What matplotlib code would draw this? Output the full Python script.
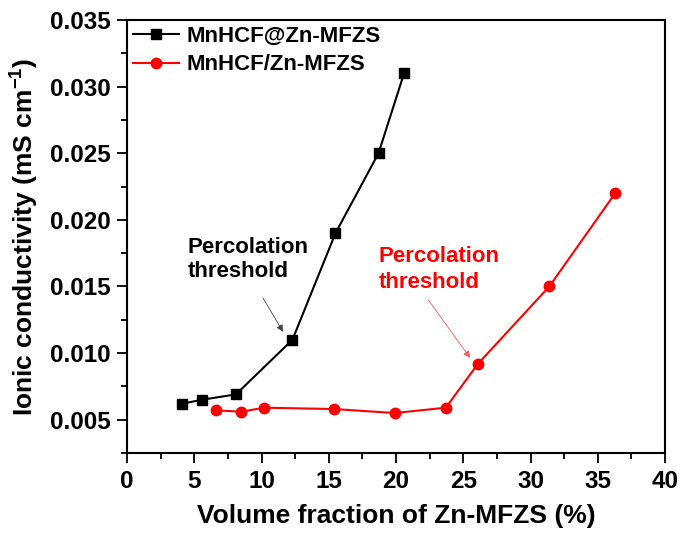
import numpy as np
import matplotlib.pyplot as plt
from matplotlib.ticker import MultipleLocator

plt.rcParams['font.family'] = ['Liberation Sans', 'DejaVu Sans']
plt.rcParams['font.weight'] = 'bold'
plt.rcParams['mathtext.fontset'] = 'custom'
plt.rcParams['mathtext.bf'] = 'Liberation Sans:bold'
plt.rcParams['mathtext.rm'] = 'Liberation Sans:bold'
plt.rcParams['mathtext.default'] = 'bf'

# MnHCF@Zn-MFZS
x_at = [4.1, 5.6, 8.1, 12.3, 15.5, 18.7, 20.6]
y_at = [0.0062, 0.0065, 0.0069, 0.011, 0.019, 0.025, 0.031]

# MnHCF/Zn-MFZS
x_sl = [6.6, 8.5, 10.2, 15.4, 19.9, 23.7, 26.1, 31.4, 36.3]
y_sl = [0.0057, 0.0056, 0.0059, 0.0058, 0.0055, 0.0059, 0.0092, 0.015, 0.022]

yticks = [0.005, 0.010, 0.015, 0.020, 0.025, 0.030, 0.035]

fig = plt.figure(figsize=(6.81, 5.33), dpi=100)
ax = fig.add_axes([127/681, 1 - 453/533, (665-127)/681, (453-20)/533])

ax.plot(x_at, y_at, '-s', color='black', lw=1.5, ms=6.5, label='MnHCF@Zn-MFZS')
ax.plot(x_sl, y_sl, '-o', color='red', lw=1.5, ms=7.5, label='MnHCF/Zn-MFZS')

ax.set_xlim(0, 40)
ax.set_ylim(0.0025, 0.035)
ax.xaxis.set_major_locator(MultipleLocator(5))
ax.xaxis.set_minor_locator(MultipleLocator(2.5))
ax.yaxis.set_minor_locator(MultipleLocator(0.0025))
ax.set_yticks(yticks)
ax.set_yticklabels(['%.3f' % v for v in yticks])

ax.tick_params(which='major', direction='out', length=7, width=1.3, labelsize=17.5, pad=5)
ax.tick_params(which='minor', direction='out', length=4, width=1.3)
for s in ax.spines.values():
    s.set_linewidth(1.5)

ax.set_xlabel('Volume fraction of Zn-MFZS (%)', fontsize=19, fontweight='bold', labelpad=8)
ax.set_ylabel('Ionic conductivity (mS cm$^{-1}$)', fontsize=19, fontweight='bold', labelpad=6)

ax.legend(loc='upper left', bbox_to_anchor=(0, 1), frameon=False, fontsize=16,
          handlelength=2.1, borderaxespad=0.0, borderpad=0.25, handletextpad=0.35,
          labelspacing=0.35)

ax.text(4.5, 0.0170, 'Percolation\nthreshold', ha='left', va='center', fontsize=16,
        fontweight='bold', color='black', linespacing=1.2)
ax.annotate('', xy=(11.6, 0.0116), xytext=(10.1, 0.01415),
            arrowprops=dict(arrowstyle='-|>', color='#444444', lw=0.6,
                            shrinkA=0, shrinkB=0, mutation_scale=10))
ax.text(18.7, 0.0163, 'Percolation\nthreshold', ha='left', va='center', fontsize=16,
        fontweight='bold', color='red', linespacing=1.3)
ax.annotate('', xy=(25.5, 0.00965), xytext=(22.4, 0.0140),
            arrowprops=dict(arrowstyle='-|>', color='#ff5555', lw=0.6,
                            shrinkA=0, shrinkB=0, mutation_scale=10))

fig.savefig('out.png', dpi=100)
